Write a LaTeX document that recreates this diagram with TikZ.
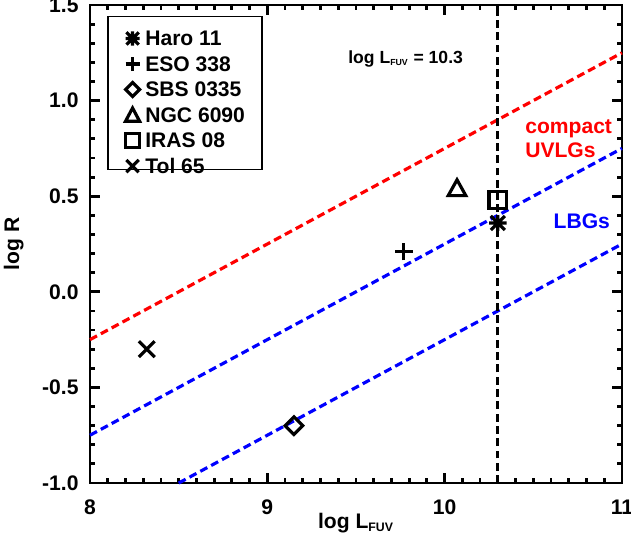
\documentclass[tikz,border=0pt]{standalone}
\usepackage{fontspec}
\setmainfont{Liberation Sans}
\usetikzlibrary{calc, positioning}

\begin{document}
\begin{tikzpicture}[x=3.546cm, y=3.824cm, font=\bfseries\large,
		axis/.style={line width=1.6pt},
		fit line/.style={line width=1.8pt, dash pattern=on 4.5pt off 2.5pt},
		sym/.style={line width=1.8pt}]
			\useasboundingbox (7.4924,-1.3243) rectangle (11.0513,1.5262);
			\newcommand{\Tick}{0.028}
			
			% ticks
			\foreach \i in {0,...,30} {
				\pgfmathsetmacro{\xx}{8+\i/10}
				\draw[axis] (\xx,-1) -- ++(0,0.026);
				\draw[axis] (\xx,1.5) -- ++(0,-0.026);
			}
			\foreach \i in {0,...,25} {
				\pgfmathsetmacro{\yy}{-1+\i/10}
				\draw[axis] (8,\yy) -- ++(\Tick,0);
				\draw[axis] (11,\yy) -- ++(-\Tick,0);
			}
			\foreach \xx in {8,9,10,11} {
				\draw[axis] (\xx,-1) -- ++(0,0.052);
				\draw[axis] (\xx,1.5) -- ++(0,-0.052);
				\node[below=6pt] at (\xx,-1) {\xx};
			}
			\foreach \yy/\lab in {-1/-1.0,-0.5/-0.5,0/0.0,0.5/0.5,1/1.0,1.5/1.5} {
				\draw[axis] (8,\yy) -- ++(0.056,0);
				\draw[axis] (11,\yy) -- ++(-0.056,0);
				\node[left=3pt] at (8,\yy) {\lab};
			}
			\draw[axis] (8,-1) rectangle (11,1.5);
			
			\node (xlab) at (9.5,-1.21) {log L\textsubscript{\scriptsize FUV}};
			\node[rotate=90] (ylab) at (7.57,0.25) {log R};
			
			% lines
			\draw[red, fit line] (8,-0.25) -- (11,1.25);
			\draw[blue, fit line] (8,-0.75) -- (11,0.75);
			\draw[blue, fit line] (8.5,-1) -- (11,0.25);
			\draw[fit line] (10.3,-1) -- (10.3,1.5);
			
			\node[red, align=left, anchor=west] (uvlg) at (10.42,0.80) {compact\\UVLGs};
			\node[blue, anchor=west] (lbg) at (10.58,0.37) {LBGs};
			\node[font=\bfseries\normalsize] (cut) at (9.78,1.22) {log L\textsubscript{\tiny FUV} = 10.3};
			
			% data points
			\coordinate (haro) at (10.30,0.36);
			\coordinate (eso) at (9.77,0.21);
			\coordinate (sbs) at (9.15,-0.70);
			\coordinate (ngc) at (10.07,0.54);
			\coordinate (iras) at (10.30,0.48);
			\coordinate (tol) at (8.32,-0.30);
			
			\draw[sym] ($(haro)+(-4pt,-4pt)$) -- ++(8pt,8pt) ($(haro)+(-4pt,4pt)$) -- ++(8pt,-8pt) ($(haro)+(-5pt,0)$) -- ++(10pt,0) ($(haro)+(0,-4.5pt)$) -- ++(0,9pt);
			\draw[sym] ($(eso)+(-5pt,0)$) -- ++(10pt,0) ($(eso)+(0,-5pt)$) -- ++(0,10pt);
			\draw[sym] ($(sbs)+(-5pt,0)$) -- ++(5pt,5pt) -- ++(5pt,-5pt) -- ++(-5pt,-5pt) -- cycle;
			\draw[sym] ($(ngc)+(-5pt,-4pt)$) -- ++(10pt,0) -- ++(-5pt,9pt) -- cycle;
			\draw[sym] ($(iras)+(-5pt,-5pt)$) rectangle ++(10pt,10pt);
			\draw[sym] ($(tol)+(-4.5pt,-4.5pt)$) -- ++(9pt,9pt) ($(tol)+(-4.5pt,4.5pt)$) -- ++(9pt,-9pt);
			
			% legend
			\draw[line width=0.8pt] (8.102,1.440) rectangle (8.97,0.640);
			\foreach \k/\lab in {0/Haro  11,1/ESO  338,2/SBS  0335,3/NGC  6090,4/IRAS  08,5/Tol  65} {
				\node[anchor=west, inner sep=0pt] (leg\k) at (8.31,1.325-\k*0.1335) {\lab};
			}
			\begin{scope}[shift={(8.24,1.325)}]
				\draw[sym] (-3.5pt,-3.5pt) -- (3.5pt,3.5pt) (-3.5pt,3.5pt) -- (3.5pt,-3.5pt) (-4pt,0) -- (4pt,0) (0,-4pt) -- (0,4pt);
				\draw[sym] (-4pt,-0.1335) -- (4pt,-0.1335) (0,-0.1335) ++(0,-4pt) -- ++(0,8pt);
				\draw[sym] (0,-0.267) ++(-4pt,0) -- ++(4pt,4pt) -- ++(4pt,-4pt) -- ++(-4pt,-4pt) -- cycle;
				\draw[sym] (0,-0.4005) ++(-4pt,-3.5pt) -- ++(8pt,0) -- ++(-4pt,7.5pt) -- cycle;
				\draw[sym] (0,-0.534) ++(-4pt,-4pt) rectangle ++(8pt,8pt);
				\draw[sym] (0,-0.6675) ++(-3.5pt,-3.5pt) -- ++(7pt,7pt) (0,-0.6675) ++(-3.5pt,3.5pt) -- ++(7pt,-7pt);
			\end{scope}
		\end{tikzpicture}
\end{document}
